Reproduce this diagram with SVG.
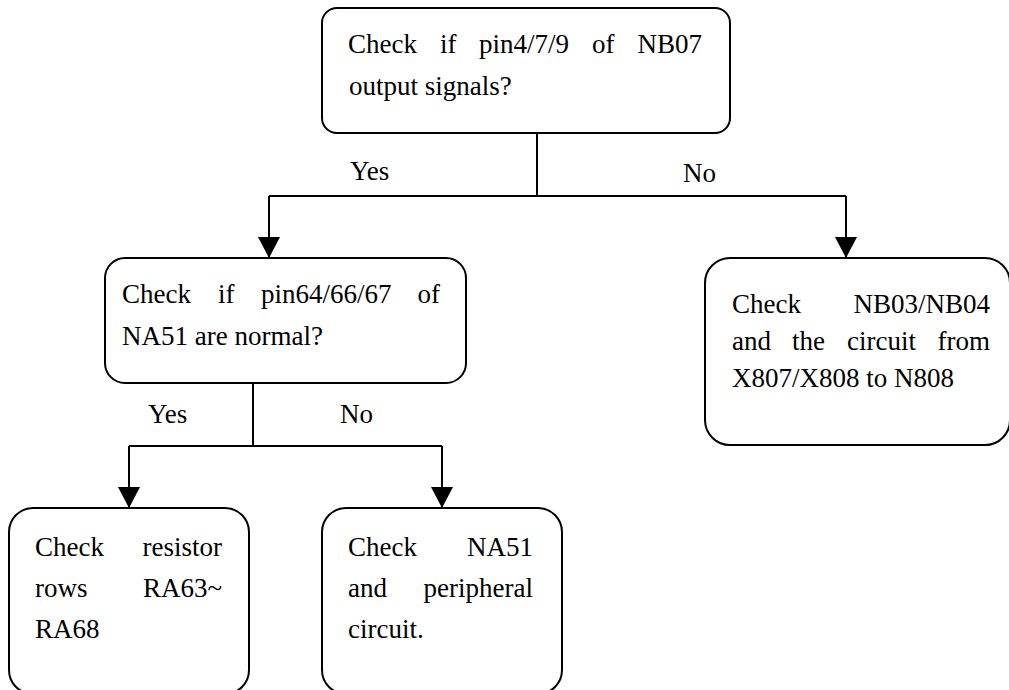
<svg xmlns="http://www.w3.org/2000/svg" width="1009" height="690" viewBox="0 0 1009 690">
  <style>
    .box { fill: #ffffff; stroke: #000000; stroke-width: 2; }
    .wire { fill: none; stroke: #000000; stroke-width: 2; }
    text { font-family: "Liberation Serif", "Times New Roman", serif; font-size: 27px; fill: #000000; }
    .end { text-anchor: end; }
  </style>
  <defs>
    <marker id="arrow" markerUnits="userSpaceOnUse" markerWidth="24" markerHeight="22" refX="21" refY="11" orient="auto">
      <polygon points="0,0 21,11 0,22" fill="#000000"/>
    </marker>
  </defs>
  <rect width="1009" height="690" fill="#ffffff"/>

  <!-- connectors -->
  <g id="connectors">
    <polyline class="wire" points="537,133 537,196"/>
    <polyline class="wire" points="269,196 846,196"/>
    <polyline class="wire" points="269,196 269,258" marker-end="url(#arrow)"/>
    <polyline class="wire" points="846,196 846,258" marker-end="url(#arrow)"/>
    <polyline class="wire" points="253,383 253,446"/>
    <polyline class="wire" points="129,446 442,446"/>
    <polyline class="wire" points="129,446 129,508" marker-end="url(#arrow)"/>
    <polyline class="wire" points="442,446 442,508" marker-end="url(#arrow)"/>
    <text x="350" y="180">Yes</text>
    <text x="683" y="182">No</text>
    <text x="148" y="423">Yes</text>
    <text x="340" y="423">No</text>
  </g>

  <!-- top decision -->
  <g id="check-nb07">
    <rect class="box" x="322" y="8" width="408" height="125" rx="15"/>
    <text x="348" y="53">Check</text>
    <text x="440" y="53">if</text>
    <text x="479" y="53">pin4/7/9</text>
    <text x="592" y="53">of</text>
    <text class="end" x="702" y="53">NB07</text>
    <text x="349" y="95">output signals?</text>
  </g>

  <!-- second decision -->
  <g id="check-na51-pins">
    <rect class="box" x="105" y="258" width="361" height="125" rx="20"/>
    <text x="122" y="303">Check</text>
    <text x="218" y="303">if</text>
    <text x="261" y="303">pin64/66/67</text>
    <text class="end" x="440" y="303">of</text>
    <text x="122" y="345">NA51 are normal?</text>
  </g>

  <!-- NB07 without output -->
  <g id="check-nb03-nb04">
    <rect class="box" x="705" y="258" width="305" height="187" rx="25"/>
    <text x="732" y="313">Check</text>
    <text class="end" x="990" y="313">NB03/NB04</text>
    <text x="732" y="350">and</text>
    <text x="792" y="350">the</text>
    <text x="847" y="350">circuit</text>
    <text class="end" x="990" y="350">from</text>
    <text x="732" y="387">X807/X808 to N808</text>
  </g>

  <!-- NA51 pins normal -->
  <g id="check-resistors">
    <rect class="box" x="9" y="508" width="240" height="186" rx="24"/>
    <text x="35" y="556">Check</text>
    <text class="end" x="222" y="556">resistor</text>
    <text x="35" y="597">rows</text>
    <text class="end" x="222" y="597">RA63~</text>
    <text x="35" y="638">RA68</text>
  </g>

  <!-- NA51 pins abnormal -->
  <g id="check-na51-circuit">
    <rect class="box" x="322" y="508" width="240" height="186" rx="24"/>
    <text x="348" y="556">Check</text>
    <text class="end" x="533" y="556">NA51</text>
    <text x="348" y="597">and</text>
    <text class="end" x="533" y="597">peripheral</text>
    <text x="348" y="638">circuit.</text>
  </g>
</svg>
